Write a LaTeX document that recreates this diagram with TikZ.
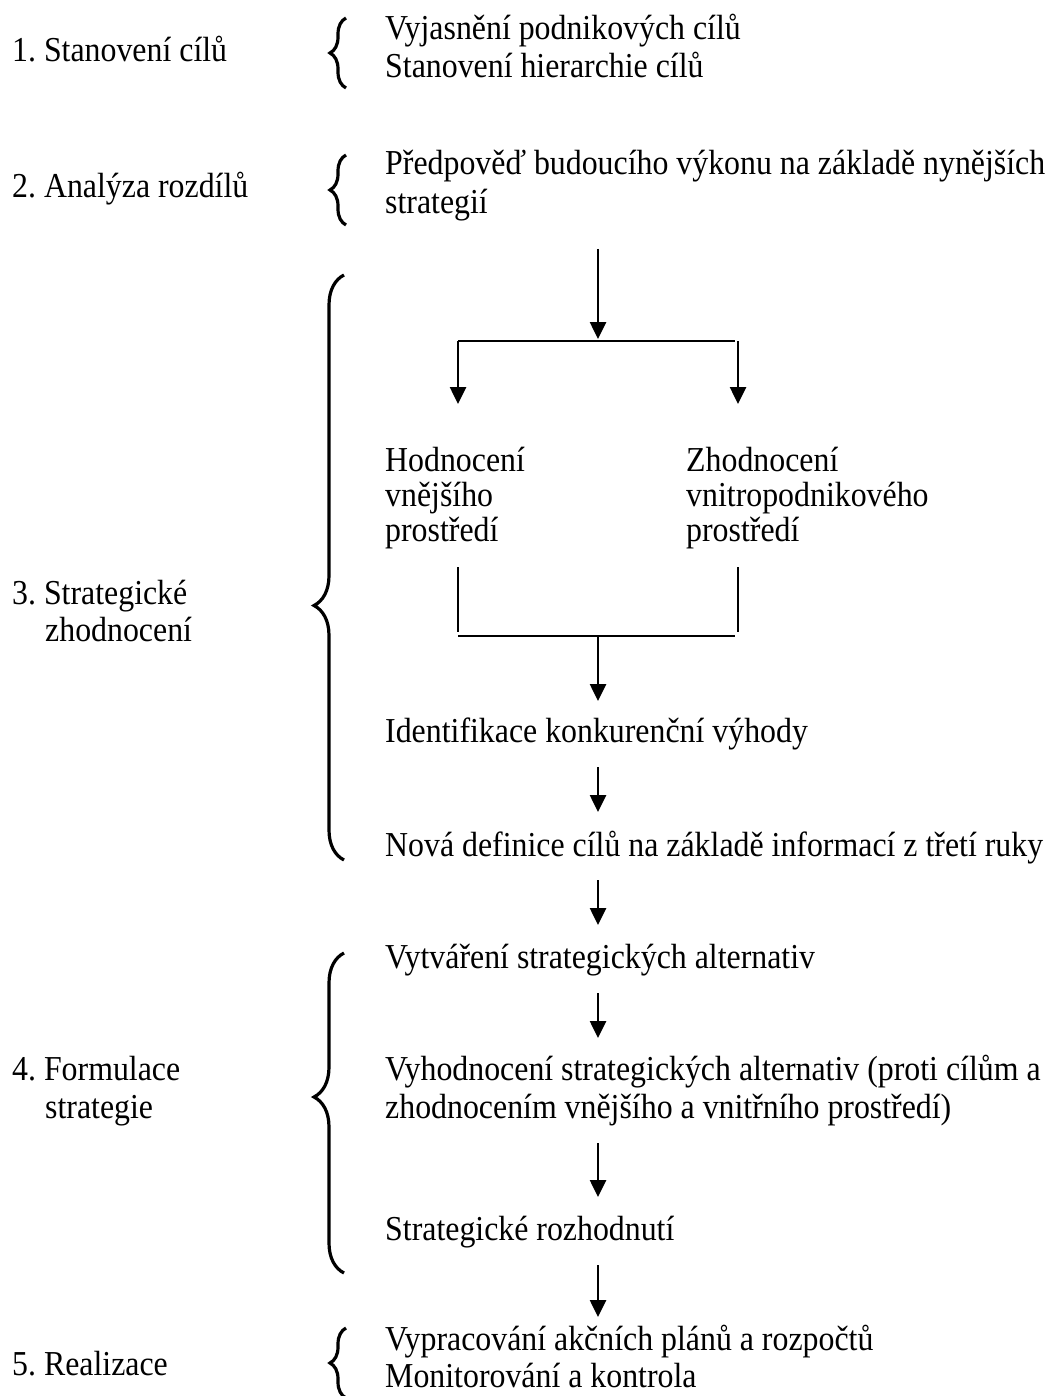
\documentclass[tikz,border=0pt]{standalone}
\usepackage{fontspec}
\setmainfont{Liberation Serif}[FakeStretch=0.91]
\usetikzlibrary{arrows.meta,decorations.pathreplacing}
\frenchspacing
\begin{document}
\begin{tikzpicture}[x=1pt,y=-1pt,
  txt/.style={anchor=base west,inner sep=0pt,font=\fontsize{35}{38}\selectfont},
  arr/.style={line width=2.6pt,-{Triangle[width=16pt,length=17pt]}},
  ln/.style={line width=2.6pt},
  br/.style 2 args={line width=3.2pt,decorate,decoration={brace,amplitude=#1,aspect=#2}}
]
\fill[white] (0,0) rectangle (1051,1396);
\useasboundingbox (0,0) rectangle (1051,1396);

% left column labels
\node[txt] (l1) at (12,62) {1. Stanovení cílů};
\node[txt] (l2) at (12,198) {2. Analýza rozdílů};
\node[txt] (l3a) at (12,604) {3. Strategické};
\node[txt] (l3b) at (45,641) {zhodnocení};
\node[txt] (l4a) at (12,1080) {4. Formulace};
\node[txt] (l4b) at (45,1118) {strategie};
\node[txt] (l5) at (12,1375) {5. Realizace};

% right column texts
\node[txt] (v1) at (385,40) {Vyjasnění podnikových cílů};
\node[txt] (v2) at (385,78) {Stanovení hierarchie cílů};
\node[txt] (p1) at (385,175) {Předpověď budoucího výkonu na základě nynějších};
\node[txt] (p2) at (385,214) {strategií};
\node[txt] (h1) at (385,471) {Hodnocení};
\node[txt] (h2) at (385,506) {vnějšího};
\node[txt] (h3) at (385,541) {prostředí};
\node[txt] (z1) at (686,471) {Zhodnocení};
\node[txt] (z2) at (686,506) {vnitropodnikového};
\node[txt] (z3) at (686,541) {prostředí};
\node[txt] (ik) at (385,742) {Identifikace konkurenční výhody};
\node[txt] (nd) at (385,856) {Nová definice cílů na základě informací z třetí ruky};
\node[txt] (vt) at (385,968) {Vytváření strategických alternativ};
\node[txt] (vh1) at (385,1080) {Vyhodnocení strategických alternativ (proti cílům a};
\node[txt] (vh2) at (385,1118) {zhodnocením vnějšího a vnitřního prostředí)};
\node[txt] (sr) at (385,1240) {Strategické rozhodnutí};
\node[txt] (vp) at (385,1350) {Vypracování akčních plánů a rozpočtů};
\node[txt] (mk) at (385,1387) {Monitorování a kontrola};

% braces
\draw[br={16}{0.5}] (346,88) -- (346,18);
\draw[br={16}{0.5}] (346,225) -- (346,155);
\draw[br={30}{0.435}] (344,860) -- (344,275);
\draw[br={30}{0.55}] (344,1273) -- (344,953);
\draw[br={16}{0.5}] (346,1398) -- (346,1328);

% connector coordinates
\coordinate (a0s) at (598,249);
\coordinate (a0e) at (598,339);
\coordinate (jl) at (458,341);
\coordinate (jr) at (738,341);
\coordinate (jre) at (735,341);
\coordinate (hl) at (458,404);
\coordinate (hr) at (738,404);
\coordinate (ul) at (458,567);
\coordinate (ur) at (738,567);
\coordinate (dl) at (458,632);
\coordinate (dr) at (738,632);
\coordinate (ml) at (458,636);
\coordinate (mr) at (735,636);
\coordinate (mc) at (598,636);
\coordinate (ike) at (598,701);
\coordinate (ik2s) at (598,767);
\coordinate (ik2e) at (598,812);
\coordinate (nds) at (598,880);
\coordinate (nde) at (598,925);
\coordinate (vts) at (598,993);
\coordinate (vte) at (598,1038);
\coordinate (vhs) at (598,1143);
\coordinate (vhe) at (598,1197);
\coordinate (srs) at (598,1265);
\coordinate (sre) at (598,1317);

% connectors
\draw[arr] (a0s) -- (a0e);
\draw[ln] (jl) -- (jre);
\draw[arr] (jl) -- (hl);
\draw[arr] (jr) -- (hr);
\draw[ln] (ul) -- (dl);
\draw[ln] (ur) -- (dr);
\draw[ln] (ml) -- (mr);
\draw[arr] (mc) -- (ike);
\draw[arr] (ik2s) -- (ik2e);
\draw[arr] (nds) -- (nde);
\draw[arr] (vts) -- (vte);
\draw[arr] (vhs) -- (vhe);
\draw[arr] (srs) -- (sre);
\end{tikzpicture}
\end{document}
